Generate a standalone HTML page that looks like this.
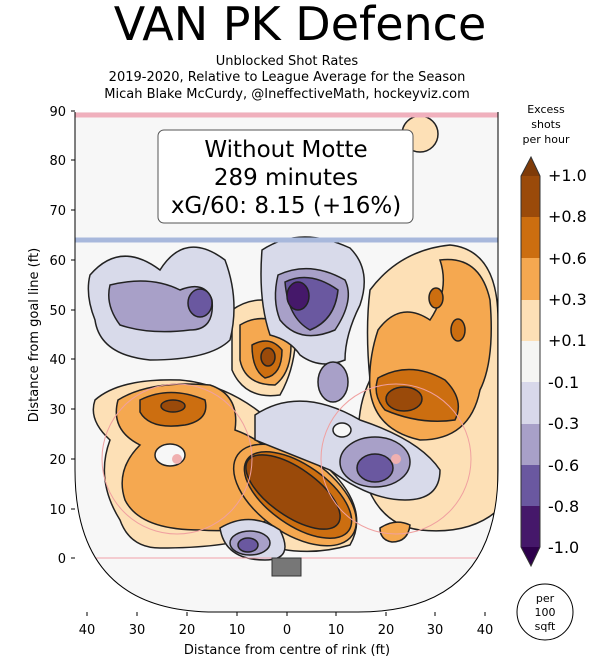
<!DOCTYPE html>
<html><head><style>
body{margin:0;background:#fff;}
svg text{font-family:"DejaVu Sans","Liberation Sans",sans-serif;}
</style></head><body>
<svg width="613" height="662" viewBox="0 0 613 662" xmlns="http://www.w3.org/2000/svg">
<text x="300" y="40" font-size="46" text-anchor="middle">VAN PK Defence</text>
<text x="287" y="65" font-size="13" text-anchor="middle">Unblocked Shot Rates</text>
<text x="287" y="81" font-size="13" text-anchor="middle">2019-2020, Relative to League Average for the Season</text>
<text x="287" y="98" font-size="13" text-anchor="middle">Micah Blake McCurdy, @IneffectiveMath, hockeyviz.com</text>
<defs><clipPath id="c"><path d="M75,112 H498 V470 Q498,612 358,612 H215 Q75,612 75,470 Z"/></clipPath></defs>
<rect x="75" y="112" width="423" height="500" fill="#f7f7f7" clip-path="url(#c)"/>
<g clip-path="url(#c)" stroke="#222" stroke-width="1.5">
<path d="M95,400 Q120,378 180,380 Q240,385 290,440 Q300,470 280,520 Q260,548 160,548 Q130,548 120,520 Q95,480 110,440 Q88,420 95,400Z" fill="#fde0b6"/>
<path d="M370,290 Q400,250 450,245 Q498,250 498,320 V510 Q470,535 420,530 Q380,525 365,480 Q350,420 370,380 Q365,330 370,290Z" fill="#fde0b6"/>
<path d="M232,310 Q260,290 295,310 Q300,360 280,395 Q245,400 232,370Z" fill="#fde0b6"/>
<path d="M235,470 Q280,440 330,470 Q370,510 350,545 Q300,560 250,540 Q220,510 235,470Z" fill="#fde0b6"/>
<circle cx="420" cy="134" r="18" fill="#fde0b6"/>
<path d="M118,400 Q150,380 210,385 Q240,395 235,430 Q290,450 285,500 Q270,535 200,530 Q140,530 125,500 Q115,470 140,445 Q110,430 118,400Z" fill="#f5a850"/>
<path d="M378,330 Q400,300 430,320 Q450,290 440,260 Q480,255 490,300 Q495,360 480,390 Q470,440 420,440 Q375,430 370,390 Q368,360 378,330Z" fill="#f5a850"/>
<path d="M240,325 Q265,310 290,330 Q295,370 275,385 Q245,385 240,360Z" fill="#f5a850"/>
<path d="M380,528 Q395,518 410,525 Q408,542 392,542 Q380,540 380,528Z" fill="#f5a850"/>
<ellipse cx="295" cy="495" rx="70" ry="38" transform="rotate(35 295 495)" fill="#f5a850"/>
<path d="M140,400 Q170,385 205,400 Q210,420 185,425 Q150,430 140,412Z" fill="#cc6e10"/>
<path d="M378,378 Q410,360 445,380 Q465,400 455,420 Q420,425 385,410 Q372,395 378,378Z" fill="#cc6e10"/>
<path d="M252,345 Q270,335 282,350 Q282,375 265,378 Q252,370 252,345Z" fill="#cc6e10"/>
<ellipse cx="436" cy="298" rx="7" ry="10" fill="#cc6e10"/>
<ellipse cx="458" cy="330" rx="7" ry="11" fill="#cc6e10"/>
<ellipse cx="298" cy="495" rx="62" ry="30" transform="rotate(35 298 495)" fill="#cc6e10"/>
<ellipse cx="173" cy="406" rx="12" ry="6" fill="#9a4a0a"/>
<ellipse cx="404" cy="399" rx="18" ry="12" fill="#9a4a0a"/>
<ellipse cx="268" cy="357" rx="7" ry="9" fill="#9a4a0a"/>
<ellipse cx="293" cy="492" rx="55" ry="24" transform="rotate(35 293 492)" fill="#9a4a0a"/>
<ellipse cx="170" cy="455" rx="15" ry="11" fill="#f7f7f7"/>
<path d="M90,275 Q120,240 160,270 Q185,230 225,260 Q240,300 230,340 Q210,360 150,360 Q100,355 95,320 Q85,295 90,275Z" fill="#d8daea"/>
<path d="M110,285 Q150,275 180,290 Q205,280 212,300 Q215,330 190,330 Q150,335 120,325 Q105,305 110,285Z" fill="#a8a0c8"/>
<ellipse cx="200" cy="303" rx="12" ry="14" fill="#6a58a0"/>
<path d="M262,250 Q300,225 350,248 Q372,270 360,305 Q345,335 345,360 Q320,370 300,355 Q290,340 270,335 Q258,300 262,250Z" fill="#d8daea"/>
<path d="M278,275 Q310,260 345,280 Q355,300 335,330 Q300,345 280,320 Q272,300 278,275Z" fill="#a8a0c8"/>
<path d="M285,282 Q310,270 338,290 Q335,320 310,330 Q288,318 285,282Z" fill="#6a58a0"/>
<ellipse cx="298" cy="296" rx="11" ry="14" fill="#45186a"/>
<ellipse cx="333" cy="382" rx="15" ry="20" fill="#a8a0c8"/>
<path d="M255,415 Q300,385 360,420 Q420,440 440,470 Q440,500 405,500 Q370,500 330,470 Q280,450 255,440Z" fill="#d8daea"/>
<ellipse cx="375" cy="462" rx="35" ry="25" fill="#a8a0c8"/>
<ellipse cx="375" cy="468" rx="18" ry="14" fill="#6a58a0"/>
<ellipse cx="342" cy="430" rx="9" ry="7" fill="#f7f7f7"/>
<path d="M220,528 Q250,510 280,530 Q295,560 265,560 Q225,560 220,528Z" fill="#d8daea"/>
<ellipse cx="250" cy="543" rx="20" ry="12" fill="#a8a0c8"/>
<ellipse cx="248" cy="545" rx="10" ry="7" fill="#6a58a0"/>
</g>
<g clip-path="url(#c)" fill="none">
<line x1="75" y1="115" x2="498" y2="115" stroke="#f0b0bd" stroke-width="5"/>
<line x1="75" y1="240" x2="498" y2="240" stroke="#a8b8dc" stroke-width="5"/>
<line x1="75" y1="558" x2="498" y2="558" stroke="#f0a0a8" stroke-width="1"/>
<circle cx="177" cy="459" r="75" stroke="#f0a0a0" stroke-width="1"/>
<circle cx="396" cy="459" r="75" stroke="#f0a0a0" stroke-width="1"/>
<circle cx="177" cy="459" r="5" fill="#f0b0b0"/>
<circle cx="396" cy="459" r="5" fill="#f0b0b0"/>
</g>
<rect x="272" y="558" width="29" height="18" fill="#777" stroke="#333"/>
<path d="M75,112 V470 Q75,612 215,612 H358 Q498,612 498,470 V112" fill="none" stroke="#000" stroke-width="1"/>
<rect x="158" y="130" width="255" height="93" rx="6" fill="#fff" stroke="#555"/>
<text x="286" y="157" font-size="23" text-anchor="middle">Without Motte</text>
<text x="286" y="185" font-size="23" text-anchor="middle">289 minutes</text>
<text x="286" y="213" font-size="23" text-anchor="middle">xG/60: 8.15 (+16%)</text>
<g font-size="13" text-anchor="end">
<text x="66" y="116">90</text><text x="66" y="165">80</text><text x="66" y="215">70</text><text x="66" y="265">60</text><text x="66" y="315">50</text><text x="66" y="364">40</text><text x="66" y="414">30</text><text x="66" y="464">20</text><text x="66" y="514">10</text><text x="66" y="563">0</text>
</g>
<g stroke="#000"><line x1="71" y1="111" x2="75" y2="111"/><line x1="71" y1="160" x2="75" y2="160"/><line x1="71" y1="210" x2="75" y2="210"/><line x1="71" y1="260" x2="75" y2="260"/><line x1="71" y1="310" x2="75" y2="310"/><line x1="71" y1="359" x2="75" y2="359"/><line x1="71" y1="409" x2="75" y2="409"/><line x1="71" y1="459" x2="75" y2="459"/><line x1="71" y1="509" x2="75" y2="509"/><line x1="71" y1="558" x2="75" y2="558"/>
<line x1="87" y1="612" x2="87" y2="616"/><line x1="137" y1="612" x2="137" y2="616"/><line x1="187" y1="612" x2="187" y2="616"/><line x1="237" y1="612" x2="237" y2="616"/><line x1="287" y1="612" x2="287" y2="616"/><line x1="336" y1="612" x2="336" y2="616"/><line x1="386" y1="612" x2="386" y2="616"/><line x1="435" y1="612" x2="435" y2="616"/><line x1="485" y1="612" x2="485" y2="616"/></g>
<g font-size="13" text-anchor="middle">
<text x="87" y="634">40</text><text x="137" y="634">30</text><text x="187" y="634">20</text><text x="237" y="634">10</text><text x="287" y="634">0</text><text x="336" y="634">10</text><text x="386" y="634">20</text><text x="435" y="634">30</text><text x="485" y="634">40</text>
</g>
<text x="287" y="654" font-size="13" text-anchor="middle">Distance from centre of rink (ft)</text>
<text transform="translate(38 335) rotate(-90)" font-size="13" text-anchor="middle">Distance from goal line (ft)</text>
<text x="546" y="113" font-size="11" text-anchor="middle">Excess</text>
<text x="546" y="128" font-size="11" text-anchor="middle">shots</text>
<text x="546" y="143" font-size="11" text-anchor="middle">per hour</text>
<polygon points="521,176 531,157 540,176" fill="#7f3b08"/>
<rect x="521" y="176" width="19" height="41" fill="#9a4a0a"/>
<rect x="521" y="217" width="19" height="41" fill="#cc6e10"/>
<rect x="521" y="258" width="19" height="42" fill="#f5a850"/>
<rect x="521" y="300" width="19" height="41" fill="#fde0b6"/>
<rect x="521" y="341" width="19" height="41" fill="#f5f5f3"/>
<rect x="521" y="382" width="19" height="42" fill="#d8d8ea"/>
<rect x="521" y="424" width="19" height="41" fill="#a8a0c8"/>
<rect x="521" y="465" width="19" height="41" fill="#6a58a0"/>
<rect x="521" y="506" width="19" height="41" fill="#45186a"/>
<polygon points="521,547 531,566 540,547" fill="#2d004b"/>
<path d="M521,176 L531,157 L540,176 V547 L531,566 L521,547 Z" fill="none" stroke="#333"/>
<g font-family="'DejaVu Sans Mono','Liberation Mono',monospace" font-size="16">
<text x="548" y="181">+1.0</text><text x="548" y="222">+0.8</text><text x="548" y="264">+0.6</text><text x="548" y="305">+0.3</text><text x="548" y="346">+0.1</text><text x="548" y="388">-0.1</text><text x="548" y="429">-0.3</text><text x="548" y="471">-0.6</text><text x="548" y="512">-0.8</text><text x="548" y="553">-1.0</text>
</g>
<circle cx="545" cy="612" r="28" fill="#fff" stroke="#000"/>
<text x="545" y="602" font-size="11" text-anchor="middle">per</text>
<text x="545" y="616" font-size="11" text-anchor="middle">100</text>
<text x="545" y="630" font-size="11" text-anchor="middle">sqft</text>
</svg>
</body></html>
